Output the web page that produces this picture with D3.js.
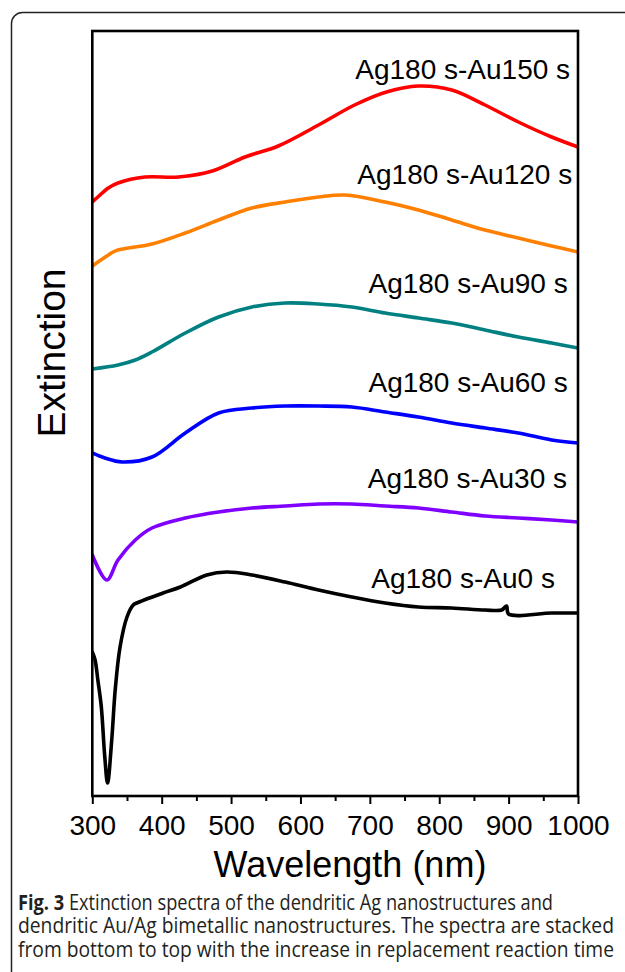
<!DOCTYPE html>
<html>
<head>
<meta charset="utf-8">
<script src="https://cdnjs.cloudflare.com/ajax/libs/d3/7.8.5/d3.min.js"></script>
<style>
  body { margin: 0; background: #fff; }
  svg { display: block; }
</style>
</head>
<body>
<div id="chart"></div>
<script>
// spectra (wavelength nm, extinction in arbitrary stacked units)
const au150Wl  = [300, 308, 323, 337, 376, 424, 473, 520, 568, 626, 678, 724, 770, 818, 866, 914, 962, 1000];
const au150Ext = [5.94, 5.99, 6.08, 6.13, 6.19, 6.19, 6.25, 6.39, 6.50, 6.71, 6.91, 7.04, 7.10, 7.06, 6.91, 6.74, 6.59, 6.49];

const au120Wl  = [300, 330, 337, 386, 434, 482, 530, 578, 626, 664, 722, 770, 818, 866, 914, 962, 1000];
const au120Ext = [5.30, 5.44, 5.46, 5.52, 5.63, 5.76, 5.88, 5.94, 5.99, 6.01, 5.94, 5.86, 5.76, 5.66, 5.58, 5.50, 5.44];

const au90Wl  = [300, 337, 362, 386, 434, 482, 530, 578, 626, 674, 722, 770, 818, 866, 914, 962, 1000];
const au90Ext = [4.27, 4.31, 4.36, 4.44, 4.63, 4.79, 4.89, 4.93, 4.92, 4.89, 4.83, 4.78, 4.73, 4.66, 4.59, 4.53, 4.48];

const au60Wl  = [300, 318, 343, 386, 434, 482, 530, 578, 626, 674, 722, 770, 818, 866, 914, 962, 1000];
const au60Ext = [3.43, 3.38, 3.34, 3.39, 3.63, 3.83, 3.88, 3.90, 3.90, 3.89, 3.84, 3.79, 3.73, 3.68, 3.63, 3.56, 3.53];

const au30Wl  = [300, 321, 337, 362, 386, 434, 482, 530, 578, 626, 674, 722, 770, 818, 866, 914, 962, 1000];
const au30Ext = [2.41, 2.16, 2.36, 2.56, 2.68, 2.78, 2.84, 2.88, 2.90, 2.92, 2.92, 2.90, 2.88, 2.84, 2.80, 2.78, 2.76, 2.74];

const au0Wl  = [300, 304, 308, 313, 318, 322, 328, 333, 340, 350, 359, 364, 402, 427, 465, 494, 530, 578, 626, 674, 722, 770, 818, 866, 890, 897, 900, 962, 1000];
const au0Ext = [1.44, 1.36, 1.16, 0.89, 0.39, 0.13, 0.56, 1.06, 1.49, 1.79, 1.91, 1.93, 2.03, 2.09, 2.21, 2.24, 2.21, 2.14, 2.06, 1.99, 1.93, 1.89, 1.88, 1.86, 1.86, 1.90, 1.82, 1.83, 1.83];

const seriesNames = ["Ag180 s-Au150 s", "Ag180 s-Au120 s", "Ag180 s-Au90 s", "Ag180 s-Au60 s", "Ag180 s-Au30 s", "Ag180 s-Au0 s"];
const seriesColors = ["#ff0000", "#ff8000", "#008080", "#0000ff", "#7f00ff", "#000000"];
const xTicks = [300, 400, 500, 600, 700, 800, 900, 1000];
const xMinorTicks = [350, 450, 550, 650, 750, 850, 950];

const captionLines = [
  ["Fig. 3", " Extinction spectra of the dendritic Ag nanostructures and"],
  ["", "dendritic Au/Ag bimetallic nanostructures. The spectra are stacked"],
  ["", "from bottom to top with the increase in replacement reaction time"]
];

const series = [
  [au150Wl, au150Ext], [au120Wl, au120Ext], [au90Wl, au90Ext],
  [au60Wl, au60Ext], [au30Wl, au30Ext], [au0Wl, au0Ext]
].map(([wl, ext], i) => ({
  name: seriesNames[i],
  color: seriesColors[i],
  points: wl.map((w, j) => ({ w: w, e: ext[j] }))
}));

const svgWidth = 625, svgHeight = 972;
const plot = { left: 92.3, top: 31, right: 578, bottom: 796 };
const chartFont = "'Liberation Sans', Arial, sans-serif";

const svg = d3.select("#chart").append("svg")
  .attr("width", svgWidth)
  .attr("height", svgHeight);

// outer rounded frame of the figure panel
svg.append("rect")
  .attr("x", 11.5).attr("y", 12.5)
  .attr("width", 700).attr("height", 1100)
  .attr("rx", 11)
  .attr("fill", "none")
  .attr("stroke", "#222")
  .attr("stroke-width", 1.5);

const x = d3.scaleLinear().domain([300, 1000]).range([plot.left, plot.right]);
const y = d3.scaleLinear().domain([0, 7.65]).range([plot.bottom, plot.top]);

svg.append("clipPath").attr("id", "plot-clip")
  .append("rect")
  .attr("x", plot.left).attr("y", plot.top)
  .attr("width", plot.right - plot.left).attr("height", plot.bottom - plot.top);

const line = d3.line()
  .x(d => x(d.w))
  .y(d => y(d.e))
  .curve(d3.curveCatmullRom.alpha(0.5));

svg.append("g")
  .attr("clip-path", "url(#plot-clip)")
  .selectAll("path")
  .data(series)
  .enter().append("path")
  .attr("d", d => line(d.points))
  .attr("fill", "none")
  .attr("stroke", d => d.color)
  .attr("stroke-width", 3.6)
  .attr("stroke-linejoin", "round")
  .attr("stroke-linecap", "round");

// curve labels (start x in nm, baseline in extinction units)
const labelPos = [[679, 7.17], [682, 6.12], [698, 5.03], [698, 4.04], [697, 3.08], [702, 2.08]];
svg.append("g")
  .selectAll("text")
  .data(series)
  .enter().append("text")
  .attr("x", (d, i) => x(labelPos[i][0]))
  .attr("y", (d, i) => y(labelPos[i][1]))
  .attr("font-family", chartFont)
  .attr("font-size", 28)
  .attr("fill", "#000")
  .text(d => d.name);

// x axis: major + minor ticks
const xAxis = svg.append("g")
  .attr("transform", "translate(0," + plot.bottom + ")")
  .call(d3.axisBottom(x).tickValues(xTicks).tickSize(8).tickPadding(11).tickFormat(d3.format("d")));
xAxis.select(".domain").remove();
xAxis.selectAll(".tick line").attr("stroke", "#000").attr("stroke-width", 2);
xAxis.selectAll(".tick text")
  .attr("font-family", chartFont)
  .attr("font-size", 28)
  .attr("fill", "#000");

const xMinor = svg.append("g")
  .attr("transform", "translate(0," + plot.bottom + ")")
  .call(d3.axisBottom(x).tickValues(xMinorTicks).tickSize(5).tickFormat(""));
xMinor.select(".domain").remove();
xMinor.selectAll(".tick line").attr("stroke", "#000").attr("stroke-width", 2);

// plot frame
svg.append("rect")
  .attr("x", plot.left).attr("y", plot.top)
  .attr("width", plot.right - plot.left).attr("height", plot.bottom - plot.top)
  .attr("fill", "none")
  .attr("stroke", "#000")
  .attr("stroke-width", 2.6);

// axis titles
svg.append("text")
  .attr("x", 350).attr("y", 877)
  .attr("text-anchor", "middle")
  .attr("font-family", chartFont)
  .attr("font-size", 36)
  .text("Wavelength (nm)");

svg.append("text")
  .attr("transform", "translate(65,353) rotate(-90)")
  .attr("text-anchor", "middle")
  .attr("font-family", chartFont)
  .attr("font-size", 39)
  .text("Extinction");

// caption
const captionWidths = [535, 596, 596];
const caption = svg.append("g")
  .attr("font-family", "'Open Sans', 'Noto Sans', sans-serif")
  .attr("font-size", 21.5)
  .attr("fill", "#231f20");
captionLines.forEach((parts, i) => {
  const t = caption.append("text")
    .attr("x", 18)
    .attr("y", 910 + i * 23.3)
    .attr("textLength", captionWidths[i])
    .attr("lengthAdjust", "spacingAndGlyphs");
  if (parts[0]) t.append("tspan").attr("font-weight", "bold").text(parts[0]);
  t.append("tspan").text(parts[1]);
});
</script>
</body>
</html>
